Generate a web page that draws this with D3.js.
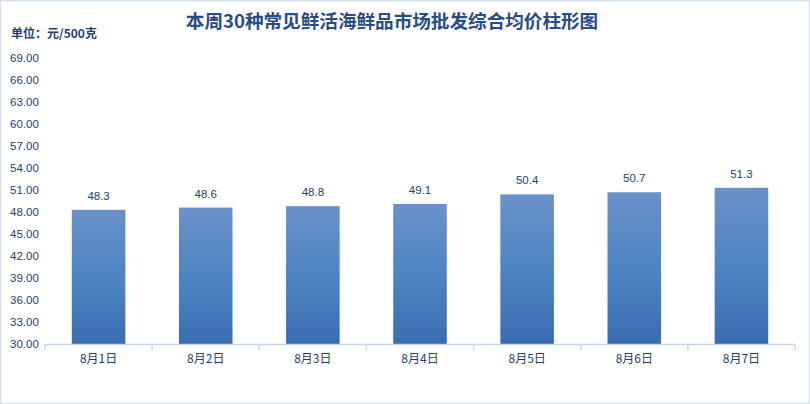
<!DOCTYPE html>
<html>
<head>
<meta charset="utf-8">
<script src="https://cdn.jsdelivr.net/npm/d3@7"></script>
<style>
  body { margin:0; background:#fff; }
  svg { display:block; font-family:"Noto Sans CJK SC","Noto Sans",sans-serif; }
</style>
</head>
<body>
<svg id="chart"></svg>
<script>
// data
var days = ["8月1日","8月2日","8月3日","8月4日","8月5日","8月6日","8月7日"];
var prices = [48.3, 48.6, 48.8, 49.1, 50.4, 50.7, 51.3];
var yTicks = [30,33,36,39,42,45,48,51,54,57,60,63,66,69];

var W = 810, H = 404;
var svg = d3.select("#chart").attr("width", W).attr("height", H);

var defs = svg.append("defs");
var grad = defs.append("linearGradient").attr("id","barGrad")
   .attr("x1",0).attr("y1",0).attr("x2",0).attr("y2",1);
grad.append("stop").attr("offset","0%").attr("stop-color","#6a92c8");
grad.append("stop").attr("offset","50%").attr("stop-color","#4e84c4");
grad.append("stop").attr("offset","100%").attr("stop-color","#3a6db0");

// outer frame
svg.append("rect").attr("x",0.5).attr("y",0.5).attr("width",W-1).attr("height",H-1)
   .attr("fill","#fff").attr("stroke","#d5e0ee").attr("stroke-width",1.5);

var x = d3.scaleBand().domain(days).range([45, 795]).paddingInner(0.5).paddingOuter(0.25);
var y = d3.scaleLinear().domain([30, 69]).range([344, 58]);

// title
svg.append("text").attr("x", 392).attr("y", 28).attr("text-anchor","middle")
   .attr("font-size", 18.6).attr("font-weight","bold").attr("fill","#284c86")
   .text("本周30种常见鲜活海鲜品市场批发综合均价柱形图");

svg.append("text").attr("x", 11).attr("y", 38)
   .attr("font-size", 12).attr("font-weight","bold").attr("fill","#1f3f73")
   .text("单位：元/500克");

// y axis labels only
var ya = svg.append("g").attr("transform","translate(10,0)")
   .call(d3.axisLeft(y).tickValues(yTicks).tickFormat(d3.format(".2f")).tickSize(0).tickPadding(0));
ya.select(".domain").remove();
ya.selectAll("text").attr("text-anchor","start").attr("font-size",11.5)
   .attr("fill","#233f6e").attr("font-family","'Liberation Sans',Arial,sans-serif");

// bars
svg.append("g").selectAll("rect").data(prices).join("rect")
   .attr("x", function(d,i){ return x(days[i]); })
   .attr("y", function(d){ return y(d); })
   .attr("width", x.bandwidth())
   .attr("height", function(d){ return y(30) - y(d); })
   .attr("fill","url(#barGrad)");

// value labels
svg.append("g").selectAll("text").data(prices).join("text")
   .attr("x", function(d,i){ return x(days[i]) + x.bandwidth()/2; })
   .attr("y", function(d){ return y(d) - 10; })
   .attr("text-anchor","middle").attr("font-size",11.5).attr("fill","#233f6e")
   .attr("font-family","'Liberation Sans',Arial,sans-serif")
   .text(function(d){ return d.toFixed(1); });

// x axis
var xa = svg.append("g").attr("transform","translate(0,344)")
   .call(d3.axisBottom(x).tickSize(0).tickPadding(10));
xa.select(".domain").attr("stroke","#c9d7ea").attr("stroke-width",1.5);
xa.selectAll("text").attr("font-size",12).attr("fill","#233f6e")
   .attr("font-family","'Noto Sans CJK SC',sans-serif");
var bounds = d3.range(days.length + 1).map(function(i){ return 45 + i * (750 / days.length); });
xa.selectAll(".sep").data(bounds).join("line").attr("class","sep")
   .attr("x1", function(d){ return d; }).attr("x2", function(d){ return d; })
   .attr("y1",0).attr("y2",6).attr("stroke","#c9d7ea").attr("stroke-width",1.5);
</script>
</body>
</html>
